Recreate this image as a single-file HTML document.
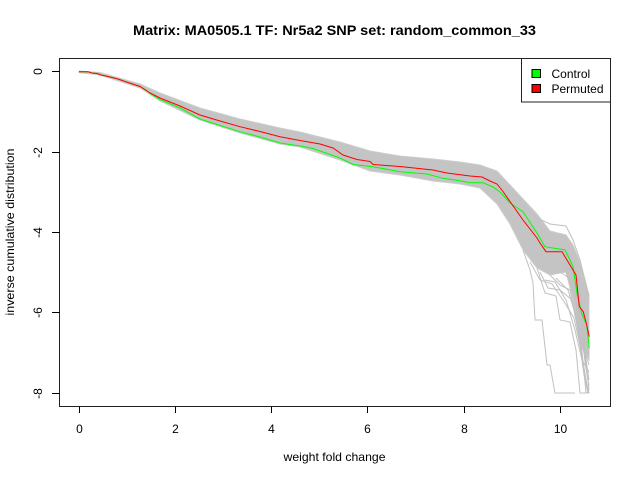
<!DOCTYPE html>
<html>
<head>
<meta charset="utf-8">
<style>
  html,body{margin:0;padding:0;background:#fff;}
  svg{display:block;}
  text{font-family:"Liberation Sans", Arial, sans-serif;fill:#000;}
</style>
</head>
<body>
<svg width="640" height="480" viewBox="0 0 640 480" xmlns="http://www.w3.org/2000/svg">
  <rect x="0" y="0" width="640" height="480" fill="#fff"/>

  <!-- Title -->
  <text x="334.5" y="35" font-size="14" font-weight="bold" text-anchor="middle" textLength="403" lengthAdjust="spacingAndGlyphs">Matrix: MA0505.1 TF: Nr5a2 SNP set: random_common_33</text>

  <!-- gray band (permutation lines) -->
  <polygon fill="#c4c4c4" stroke="#cccccc" stroke-width="1"
    points="79,71 100,72.5 140,84 160,93 200,108 240,119 280,128 300,132 340,142 370,151 400,156 433,159 460,162 480,165 497,171 510,185 523,199 537,214 550,231 566,235 573,245 580,262 589,295
            589,360 580,345 573,300 566,272 550,275 537,268 523,250 510,224 497,204 480,188 460,184 433,181 400,175 370,171 340,160 300,147 280,144 240,133 200,120 160,101 140,88 100,75 79,72.5"/>

  <!-- outlier gray lines -->
  <g fill="none" stroke="#c0c0c0" stroke-width="1">
    <polyline points="523,250 530,270 533,283 535,320 542,320 547,365 550,365 555,393 575,393"/>
    <polyline points="537,268 545,293 556,296 560,320 570,322 576,350 580,393 589,393"/>
    <polyline points="550,275 560,285 570,290 578,330 584,375 589,393"/>
    <polyline points="560,272 572,280 580,330 586,393"/>
    <polyline points="523,205 537,218 550,224 566,226 573,240 580,260 585,280 589,297"/>
    <polyline points="570,268 578,300 583,340 589,390"/>
    <polyline points="575,270 581,310 586,360 589,380"/>
    <polyline points="572,262 580,290 585,330 589,355"/>
    <polyline points="568,255 576,285 582,320 589,340"/>
    <polyline points="540,272 548,288 560,290 572,300 580,340 585,380 588,393"/>
    <polyline points="545,280 555,282 566,300 575,330 582,360 589,372"/>
    <polyline points="556,278 568,290 577,320 584,350 589,365"/>
    <polyline points="562,262 574,275 579,300 586,345 589,348"/>
    <polyline points="530,262 540,280 552,284 563,300 574,318 581,350 587,385 589,393"/>
    <polyline points="565,270 574,292 580,318 585,362 589,386"/>
  </g>

  <!-- Control (green) -->
  <polyline fill="none" stroke="#00ff00" stroke-width="1"
    points="79,71.7 88,71.7 92,73 97,73.5 101,75 108,76.5 118,79 128,82.5 140,86.5 146,90 150,93.5 160,99.5 180,108 200,119 220,125.5 240,131.7 260,137 280,143 300,146 313,148.5 340,158 353,164.5 373,166.7 400,171.7 427,174 443,178.3 460,180.7 470,182.7 483,182.7 493,187 500,192 510,203 523,211.7 537,233 545,246.7 565,250 570,260 573,266.7 577.3,295 581.7,313.3 586.7,325 589.3,348.3"/>

  <!-- Permuted (red) -->
  <polyline fill="none" stroke="#ff0000" stroke-width="1"
    points="79,71.7 88,71.7 92,73 97,73.5 101,75 108,76.5 118,79 128,82.5 140,86.5 150,93 160,98 180,106 200,115 220,121 240,126.7 260,131.5 280,136.7 300,140.5 320,144 333,148 343,155 357,159.5 370,161.5 373,164.5 400,166.5 433,170 447,173 470,176 482,177 490,181 497,184 503,191.5 510,201.5 523,220 537,238 540,243 546,251.7 562,251.7 568,261.7 573,270 576,275 579.3,306.7 583.3,311.7 586.7,325 589.3,336.7"/>

  <!-- plot box -->
  <rect x="59.5" y="58.5" width="551" height="348" fill="none" stroke="#222" stroke-width="1"/>

  <!-- x ticks -->
  <g stroke="#000" stroke-width="1">
    <line x1="79.5" y1="406.5" x2="79.5" y2="413"/>
    <line x1="175.5" y1="406.5" x2="175.5" y2="413"/>
    <line x1="271.5" y1="406.5" x2="271.5" y2="413"/>
    <line x1="367.5" y1="406.5" x2="367.5" y2="413"/>
    <line x1="464.5" y1="406.5" x2="464.5" y2="413"/>
    <line x1="560.5" y1="406.5" x2="560.5" y2="413"/>
  </g>
  <g font-size="12" text-anchor="middle">
    <text x="79.5" y="433">0</text>
    <text x="175.5" y="433">2</text>
    <text x="271.5" y="433">4</text>
    <text x="367.5" y="433">6</text>
    <text x="464.5" y="433">8</text>
    <text x="560.5" y="433">10</text>
  </g>

  <!-- y ticks -->
  <g stroke="#000" stroke-width="1">
    <line x1="52" y1="71.5" x2="59.5" y2="71.5"/>
    <line x1="52" y1="152.5" x2="59.5" y2="152.5"/>
    <line x1="52" y1="232.5" x2="59.5" y2="232.5"/>
    <line x1="52" y1="312.5" x2="59.5" y2="312.5"/>
    <line x1="52" y1="393.5" x2="59.5" y2="393.5"/>
  </g>
  <g font-size="12" text-anchor="middle">
    <text transform="translate(42,71.5) rotate(-90)">0</text>
    <text transform="translate(42,152.5) rotate(-90)">-2</text>
    <text transform="translate(42,232.5) rotate(-90)">-4</text>
    <text transform="translate(42,312.5) rotate(-90)">-6</text>
    <text transform="translate(42,393.5) rotate(-90)">-8</text>
  </g>

  <!-- axis labels -->
  <text x="334.5" y="461" font-size="12" text-anchor="middle" textLength="102" lengthAdjust="spacingAndGlyphs">weight fold change</text>
  <text transform="translate(14,232) rotate(-90)" font-size="12" text-anchor="middle" textLength="167" lengthAdjust="spacingAndGlyphs">inverse cumulative distribution</text>

  <!-- legend -->
  <rect x="521.5" y="58.5" width="89" height="43.5" fill="#fff" stroke="#222" stroke-width="1"/>
  <rect x="532" y="69.5" width="8.5" height="8" fill="#00ff00" stroke="#000" stroke-width="1"/>
  <rect x="532" y="84.5" width="8.5" height="8" fill="#ff0000" stroke="#000" stroke-width="1"/>
  <text x="551.5" y="78" font-size="12">Control</text>
  <text x="551.5" y="93" font-size="12">Permuted</text>
</svg>
</body>
</html>
